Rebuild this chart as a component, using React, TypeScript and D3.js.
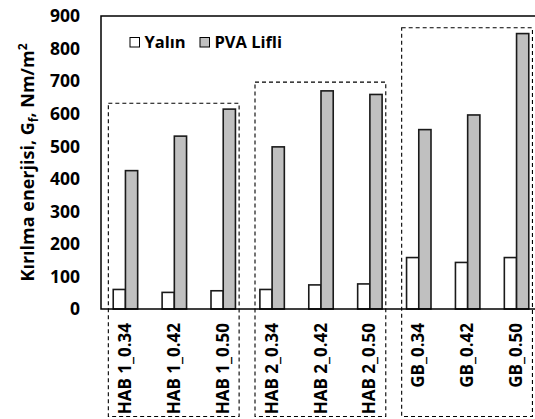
import React from "react";
import * as d3 from "d3";

const categories = ["HAB 1_0.34", "HAB 1_0.42", "HAB 1_0.50", "HAB 2_0.34", "HAB 2_0.42", "HAB 2_0.50", "GB_0.34", "GB_0.42", "GB_0.50"];
const seriesNames = ["Yalın", "PVA Lifli"];
const yalin = [60, 51, 56, 60, 74, 77, 158, 143, 158];
const pvaLifli = [425, 531, 614, 498, 670, 659, 551, 596, 846];
const yTicks = [0, 100, 200, 300, 400, 500, 600, 700, 800, 900];
const groups = [
  { from: 0, to: 2, top: 632 },
  { from: 3, to: 5, top: 697 },
  { from: 6, to: 8, top: 864 },
];
const colors = ["#ffffff", "#c0c0c0"];

const FONT = "'Open Sans', 'Liberation Sans', sans-serif";

export default function App() {
  const W = 535, H = 419;
  const left = 101, right = 541, top = 16, bottom = 309;
  const x0 = d3.scaleBand<string>().domain(categories).range([left, right]).paddingInner(0.5).paddingOuter(0.25);
  const step = x0.step();
  const x1 = d3.scaleBand<string>().domain(seriesNames).range([0, x0.bandwidth()]);
  const y = d3.scaleLinear().domain([0, 900]).range([bottom, top]);
  const series = [yalin, pvaLifli];

  return (
    <svg width={W} height={H} style={{ position: "absolute", left: 0, top: 0, background: "#fff" }} fontFamily={FONT}>
      <rect x={0} y={0} width={W} height={H} fill="#fff" />
      {groups.map((g, i) => {
        const xa = (x0(categories[g.from]) as number) - step * 0.1;
        const xb = (x0(categories[g.to]) as number) + x0.bandwidth() + step * 0.075;
        return (
          <rect key={i} x={xa} y={y(g.top)} width={xb - xa} height={416.5 - y(g.top)} fill="none" stroke="#000" strokeWidth={1.1} strokeDasharray="4,3" />
        );
      })}
      {categories.map((c, i) =>
        series.map((s, j) => (
          <rect key={c + j} x={(x0(c) as number) + (x1(seriesNames[j]) as number)} y={y(s[i])} width={x1.bandwidth()} height={y(0) - y(s[i])} fill={colors[j]} stroke="#1a1a1a" strokeWidth={1.6} />
        ))
      )}
      <rect x={left} y={top} width={right - left} height={bottom - top} fill="none" stroke="#000" strokeWidth={1.5} />
      {yTicks.map((t) => (
        <text key={t} x={80} y={y(t)} dy="0.36em" textAnchor="end" fontSize={17.5} fontWeight={700} fill="#000">{t}</text>
      ))}
      <text transform={`translate(34,${(32 + 293) / 2}) rotate(-90)`} textAnchor="middle" fontSize={18} fontWeight={700} fill="#000">
        Kırılma enerjisi, G<tspan fontSize={12} dy="4">f</tspan><tspan dy="-4">, Nm/m</tspan><tspan fontSize={12} dy="-7">2</tspan>
      </text>
      {categories.map((c) => (
        <text key={c} transform={`translate(${(x0(c) as number) + x0.bandwidth() / 2 + 5.5},323) rotate(-90)`} textAnchor="end" fontSize={17} fontWeight={700} fill="#000">{c}</text>
      ))}
      {seriesNames.map((n, j) => {
        const lx = j === 0 ? 130 : 200;
        return (
          <g key={n}>
            <rect x={lx} y={37.5} width={9.5} height={9.5} fill={colors[j]} stroke="#000" strokeWidth={1} />
            <text x={lx + 14.5} y={48} fontSize={16.5} fontWeight={700} fill="#000">{n}</text>
          </g>
        );
      })}
    </svg>
  );
}
